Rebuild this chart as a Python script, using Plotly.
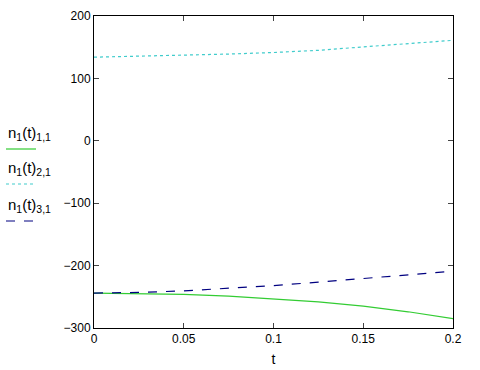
import plotly.graph_objects as go

t = [0, 0.025, 0.05, 0.075, 0.1, 0.125, 0.15, 0.175, 0.2]
n11 = [-244, -244.5, -246, -249, -253, -258, -265, -274, -285]
n21 = [134, 135.5, 137, 139, 141.5, 145, 150.5, 156, 161]
n31 = [-244, -243, -240.5, -236.5, -232, -226.5, -220.5, -215, -209]
y_ticks = [200, 100, 0, -100, -200, -300]
x_ticks = [0, 0.05, 0.1, 0.15, 0.2]
x_tick_labels = ["0", "0.05", "0.1", "0.15", "0.2"]

GREEN = "#33cc33"
CYAN = "#40cccc"
NAVY = "#000080"

fig = go.Figure()
fig.add_trace(go.Scatter(x=t, y=n11, mode="lines", line=dict(color=GREEN, width=1.2), showlegend=False))
fig.add_trace(go.Scatter(x=t, y=n21, mode="lines", line=dict(color=CYAN, width=1.2, dash="dot"), showlegend=False))
fig.add_trace(go.Scatter(x=t, y=n31, mode="lines", line=dict(color=NAVY, width=1.2, dash="dash"), showlegend=False))

L, R, T, B = 94, 27, 16, 42
W, H = 480, 370
pw, ph = W - L - R, H - T - B

def px(x):
    return (x - L) / pw

def py(y):
    return (H - B - y) / ph

font = dict(family="Liberation Sans, Arial, sans-serif", size=12, color="black")

labels = [("n<sub>1</sub>(t)<sub>1,1</sub>", 133, GREEN, 149, 36, "solid"),
          ("n<sub>1</sub>(t)<sub>2,1</sub>", 168, CYAN, 184, 33, "dot"),
          ("n<sub>1</sub>(t)<sub>3,1</sub>", 205, NAVY, 221, 33, "dash")]
for txt, ty, col, ly, lx2, dash in labels:
    fig.add_annotation(x=px(6), y=py(ty), xref="paper", yref="paper", text=txt,
                       showarrow=False, xanchor="left", yanchor="middle",
                       font=dict(family=font["family"], size=15, color="black"))
    fig.add_shape(type="line", xref="paper", yref="paper", x0=px(6), x1=px(lx2),
                  y0=py(ly), y1=py(ly), line=dict(color=col, width=1.2, dash=dash))

fig.update_layout(
    width=W, height=H,
    margin=dict(l=L, r=R, t=T, b=B, autoexpand=False),
    paper_bgcolor="white", plot_bgcolor="white",
    font=font,
    xaxis=dict(range=[0, 0.2], tickvals=x_ticks, ticktext=x_tick_labels,
               ticks="inside", ticklen=5, mirror="ticks", showline=True,
               linecolor="black", linewidth=1, showgrid=False, zeroline=False,
               automargin=False,
               title=dict(text="t", standoff=8), tickfont=font),
    yaxis=dict(range=[-300, 200], tickvals=y_ticks,
               ticks="inside", ticklen=5, mirror="ticks", showline=True,
               linecolor="black", linewidth=1, showgrid=False, zeroline=False,
               automargin=False, tickfont=font),
)

fig.write_html("out.html", config={"displayModeBar": False})

with open("out.html", "r", encoding="utf-8") as f:
    html = f.read()
html = html.replace("<head>", "<head><style>body{margin:0;padding:0;overflow:hidden}</style>", 1)
with open("out.html", "w", encoding="utf-8") as f:
    f.write(html)
